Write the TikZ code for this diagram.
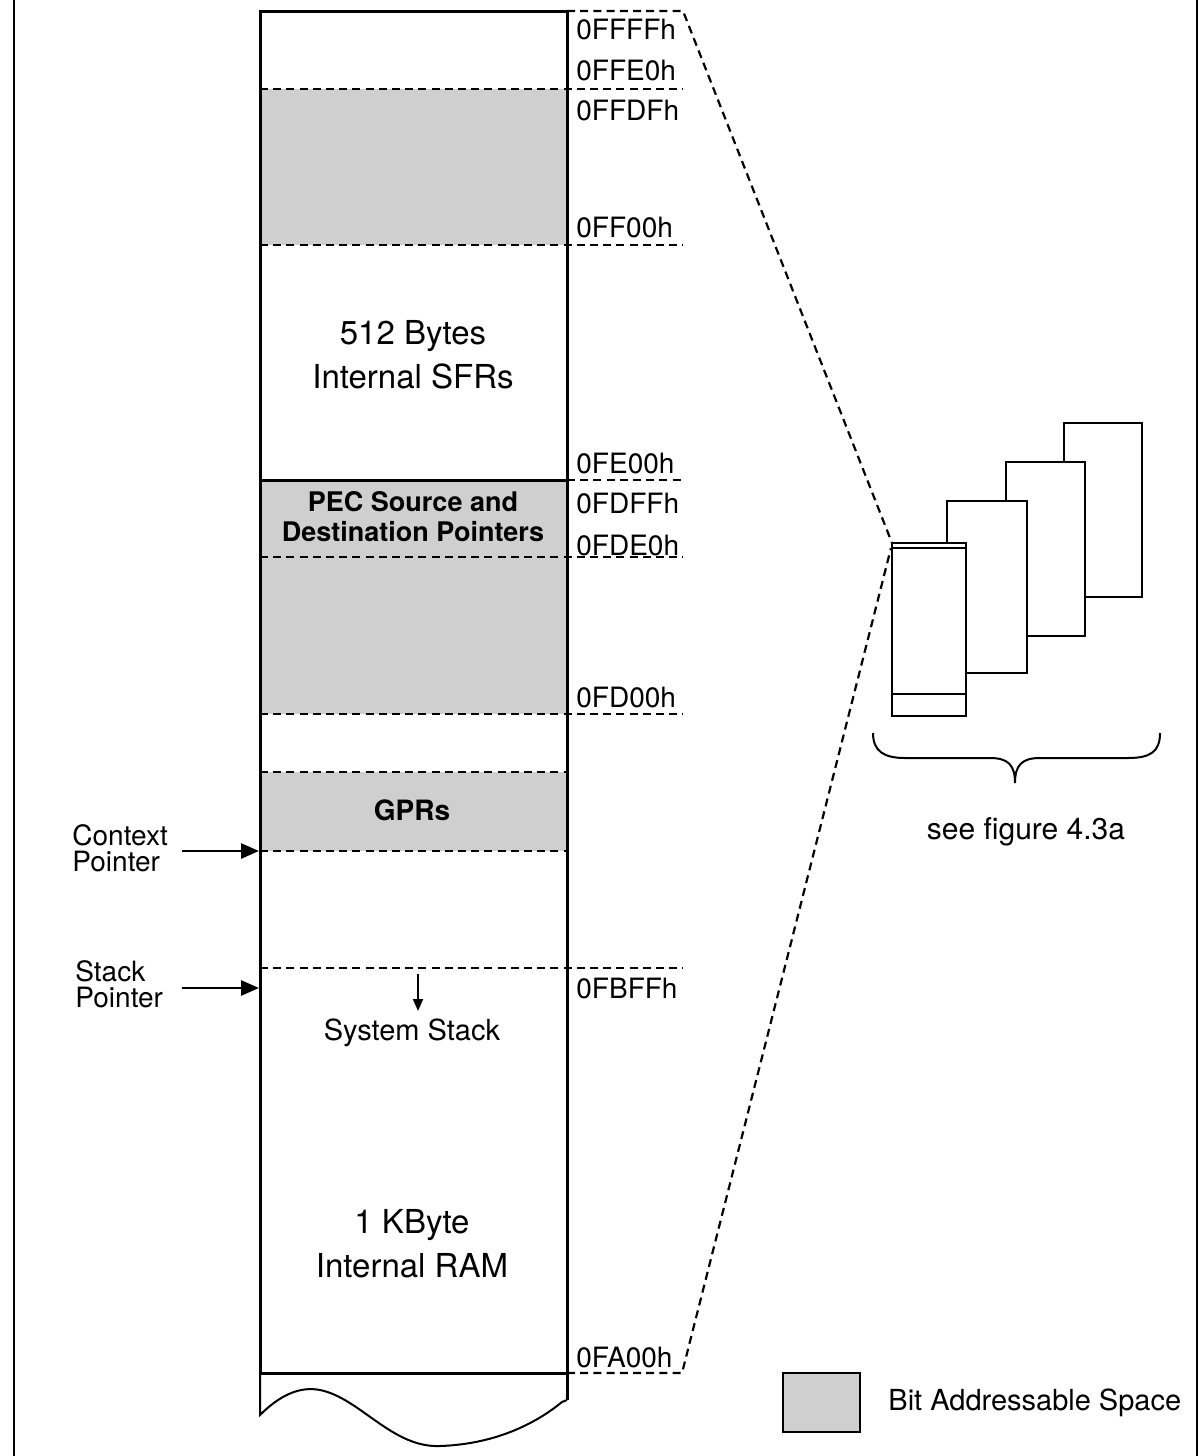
\documentclass[tikz,border=0pt]{standalone}
\usepackage{fontspec}
\setmainfont{TeX Gyre Heros}
\usetikzlibrary{arrows.meta}
\begin{document}
\begin{tikzpicture}[x=0.5pt,y=-0.5pt,
  colline/.style={line width=1.5pt},
  dashln/.style={line width=1.1pt, dash pattern=on 4pt off 2.6pt},
  bitfill/.style={fill=black!19},
  addr/.style={anchor=west, inner sep=0pt, font=\fontsize{14}{16}\selectfont},
  big/.style={inner sep=0pt, align=center, font=\fontsize{16.5}{22}\selectfont},
  graytxt/.style={inner sep=0pt, align=center, font=\bfseries\fontsize{13.5}{15}\selectfont},
  side/.style={anchor=west, inner sep=0pt, align=left, font=\fontsize{14}{14}\selectfont},
  ptr/.style={line width=1.4pt, -{Triangle[length=9pt,width=7.5pt]}},
  page/.style={line width=1pt, fill=white}
]
\useasboundingbox (0,0) rectangle (1200,1456);
\fill[white] (0,0) rectangle (1200,1456);
% outer frame lines
\draw[line width=1pt] (14,0) -- (14,1456);
\draw[line width=1pt] (1197,0) -- (1197,1456);

% bit addressable fills
\fill[bitfill] (260,89) rectangle (567,245);
\fill[bitfill] (260,480) rectangle (567,714);
\fill[bitfill] (260,772) rectangle (567,851);

% internal dashed boundaries extended to labels
\foreach \yy in {89,245,557,714,968} \draw[dashln] (260,\yy) -- (683,\yy);
\draw[dashln] (567,480) -- (683,480);
\foreach \yy in {772,851} \draw[dashln] (260,\yy) -- (567,\yy);

% column outline
\draw[colline] (260,1373) -- (260,11) -- (567,11) -- (567,1400);
\draw[colline] (260,480) -- (567,480);
\draw[colline] (260,1373) -- (567,1373);
% broken bottom
\draw[line width=1pt] (260,1373) -- (260,1415)
  .. controls (280,1395) and (300,1386) .. (320,1390)
  .. controls (360,1398) and (392,1448) .. (440,1446)
  .. controls (500,1444) and (540,1420) .. (562,1402) -- (567,1400);

% texts in column
\node[big] (sfr) at (413,355) {512 Bytes\\Internal SFRs};
\node[graytxt] (pec) at (413,517) {PEC Source and\\Destination Pointers};
\node[graytxt, font=\bfseries\fontsize{14}{15}\selectfont] (gpr) at (412,810) {GPRs};
\node[inner sep=0pt, font=\fontsize{14.5}{16}\selectfont] (sys) at (412,1033) {System Stack};
\node[big, font=\fontsize{16.5}{22}\selectfont] (ram) at (412,1244) {1 KByte\\Internal RAM};

% stack growth arrow
\coordinate (sgs) at (418,974);
\coordinate (sge) at (418,1011);
\draw[line width=1pt, -{Triangle[length=6pt,width=5pt]}] (sgs) -- (sge);

% address labels
\node[addr] (a1) at (576,30) {0FFFFh};
\node[addr] (a2) at (576,71) {0FFE0h};
\node[addr] (a3) at (576,111) {0FFDFh};
\node[addr] (a4) at (576,228) {0FF00h};
\node[addr] (a5) at (576,463) {0FE00h};
\node[addr] (a6) at (576,503) {0FDFFh};
\node[addr] (a7) at (576,545) {0FDE0h};
\node[addr] (a8) at (576,697) {0FD00h};
\node[addr] (a9) at (576,988) {0FBFFh};
\node[addr] (a10) at (576,1357) {0FA00h};

% pointers
\node[side] (ctx) at (72,848) {Context\\[-1pt]Pointer};
\node[side] (stk) at (75,984) {Stack\\[-1pt]Pointer};
\coordinate (ctxs) at (182,851);
\coordinate (ctxe) at (259,851);
\coordinate (stks) at (182,988);
\coordinate (stke) at (259,988);
\draw[ptr] (ctxs) -- (ctxe);
\draw[ptr] (stks) -- (stke);

% stacked pages
\draw[page] (1064,423) rectangle (1142,597);
\draw[page] (1006,462) rectangle (1085,636);
\draw[page] (947,501) rectangle (1027,673);
\draw[page] (892,543) rectangle (966,716);
\draw[line width=1pt] (892,548) -- (966,548);
\draw[line width=1.2pt] (892,694) -- (966,694);
\coordinate (pg) at (892,543);
\coordinate (pgb) at (891,548);

% zoom lines
\draw[dashln] (567,11) -- (683,11) -- (pg);
\draw[dashln] (567,1373) -- (682,1373) -- (pgb);

% brace
\draw[line width=1pt] (873,733) .. controls (873,752) and (885,758) .. (905,758) -- (990,758)
  .. controls (1008,758) and (1015,765) .. (1015,783)
  .. controls (1015,765) and (1022,758) .. (1040,758) -- (1128,758)
  .. controls (1150,758) and (1160,752) .. (1160,733);
\node[inner sep=0pt, font=\fontsize{15}{16}\selectfont] (see) at (1026,832) {see figure 4.3a};

% legend
\draw[line width=1pt, bitfill] (783,1373) rectangle (860,1432);
\node[anchor=west, inner sep=0pt, font=\fontsize{14.5}{16}\selectfont] (leg) at (888,1403) {Bit Addressable Space};
\end{tikzpicture}
\end{document}
